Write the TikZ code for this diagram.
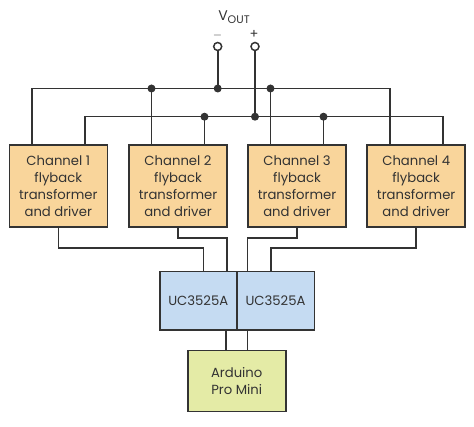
\documentclass[tikz,border=0pt]{standalone}
\usepackage{fontspec}
\setmainfont{Poppins}
\definecolor{chanfill}{HTML}{F9D59B}
\definecolor{ucfill}{HTML}{C5DBF2}
\definecolor{ardfill}{HTML}{E4EBA6}
\definecolor{ink}{HTML}{333333}
\tikzset{
  wire/.style={draw=ink, line width=1.6pt},
  block/.style={draw=ink, line width=1.6pt, text=ink, align=center,
    font=\fontsize{13.2}{17}\selectfont, inner sep=0pt},
  chan/.style={block, fill=chanfill, minimum width=98pt, minimum height=82pt},
  dot/.style={circle, fill=ink, inner sep=0pt, minimum size=8pt},
  term/.style={circle, draw=ink, line width=1.5pt, fill=white, inner sep=0pt, minimum size=8pt}
}
\begin{document}
\begin{tikzpicture}[x=1pt,y=-1pt]
  \useasboundingbox (0,0) rectangle (474,427);
  % bus levels
  \coordinate (busA) at (0,88.5);
  \coordinate (busB) at (0,116.7);
  \coordinate (lowA) at (0,248.3);
  \coordinate (lowB) at (0,238.3);
  % channel blocks
  \node[chan] (ch1) at (58.3,186.2) {Channel 1\\flyback\\transformer\\and driver};
  \node[chan] (ch2) at (178,186.2) {Channel 2\\flyback\\transformer\\and driver};
  \node[chan] (ch3) at (297,186.2) {Channel 3\\flyback\\transformer\\and driver};
  \node[chan] (ch4) at (416.2,186.2) {Channel 4\\flyback\\transformer\\and driver};
  \foreach \i in {1,...,4} {
    \coordinate (a\i) at ([xshift=-26.5pt]ch\i.north);
    \coordinate (b\i) at ([xshift=26.5pt]ch\i.north);
  }
  % controllers
  \node[block, fill=ucfill, minimum width=76.7pt, minimum height=58.3pt] (uc1) at (198.3,300.8) {UC3525A};
  \node[block, fill=ucfill, minimum width=77.6pt, minimum height=58.3pt] (uc2) at (275.5,300.8) {UC3525A};
  \node[block, fill=ardfill, minimum width=98pt, minimum height=61pt] (ard) at (236.7,381.2) {Arduino\\Pro Mini};
  % output terminals
  \node[term] (tneg) at (217.7,46.5) {};
  \node[term] (tpos) at (255,46.5) {};
  \node[text=ink, font=\fontsize{14}{14}\selectfont, inner sep=0pt] (vout) at (234,17) {V\raisebox{-0.4ex}{\fontsize{11}{11}\selectfont OUT}};
  \node[text=ink, font=\fontsize{13}{13}\selectfont, inner sep=0pt] (mlab) at (217.5,36) {$-$};
  \node[text=ink, font=\fontsize{13}{13}\selectfont, inner sep=0pt] (plab) at (254,34) {+};
  % buses
  \draw[wire] (a1) |- (busA -| a4) -- (a4);
  \draw[wire] (b1) |- (busB -| b4) -- (b4);
  \draw[wire] (a2) -- (a2 |- busA);
  \draw[wire] (a3) -- (a3 |- busA);
  \draw[wire] (b2) -- (b2 |- busB);
  \draw[wire] (b3) -- (b3 |- busB);
  \draw[wire] (tneg) -- (tneg |- busA);
  \draw[wire] (tpos) -- (tpos |- busB);
  \foreach \p/\q in {a2/busA, tneg/busA, a3/busA, b2/busB, tpos/busB, b3/busB}
    \node[dot] at (\p |- \q) {};
  % channel drives
  \draw[wire] (ch1.south) -- (ch1.south |- lowA) -| ([xshift=5pt]uc1.north);
  \draw[wire] (ch2.south) -- (ch2.south |- lowB) -| ([xshift=28.4pt]uc1.north);
  \draw[wire] (ch3.south) -- (ch3.south |- lowB) -| ([xshift=-28.2pt]uc2.north);
  \draw[wire] (ch4.south) -- (ch4.south |- lowA) -| ([xshift=-4.8pt]uc2.north);
  % controller inputs
  \draw[wire] ([xshift=-11pt]ard.north) -- ([xshift=-11pt]ard.north |- uc1.south);
  \draw[wire] ([xshift=10.6pt]ard.north) -- ([xshift=10.6pt]ard.north |- uc2.south);
\end{tikzpicture}
\end{document}
